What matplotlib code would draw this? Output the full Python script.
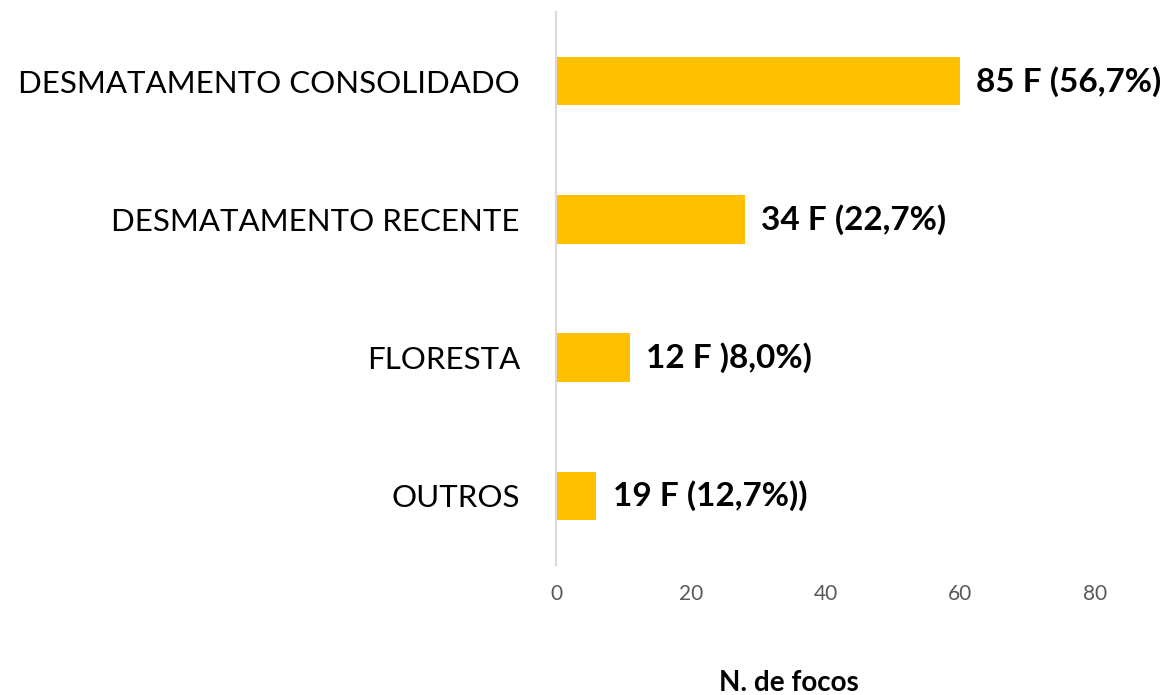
import numpy as np
import matplotlib.pyplot as plt

categories = ["DESMATAMENTO CONSOLIDADO", "DESMATAMENTO RECENTE", "FLORESTA", "OUTROS"]
values = [60, 28, 11, 6]
labels = ["85 F (56,7%)", "34 F (22,7%)", "12 F )8,0%)", "19 F (12,7%))"]
xticks = [0, 20, 40, 60, 80]

plt.rcParams['font.family'] = ['Lato', 'DejaVu Sans']

fig = plt.figure(figsize=(11.68, 6.95), dpi=100)
ax = fig.add_axes([556 / 1168, 1 - 565 / 695, (1095 - 556) / 1168, 553 / 695])

y = np.arange(len(categories))
ax.barh(y, values, height=0.35, color='#FFC000')
for yi, v, lab in zip(y, values, labels):
    ax.text(v + 2.4, yi, lab, va='center', ha='left', fontsize=24, fontweight='bold', color='black')

ax.set_xlim(0, 80)
ax.set_ylim(3.5, -0.5)
ax.set_yticks(y, labels=categories, fontsize=22.5)
ax.set_xticks(xticks, labels=[str(t) for t in xticks], fontsize=15, color='#595959')
ax.tick_params(axis='y', length=0, pad=26)
ax.tick_params(axis='x', length=0, pad=14)

for s in ['top', 'right', 'bottom']:
    ax.spines[s].set_visible(False)
ax.spines['left'].set_color('#D9D9D9')
ax.spines['left'].set_linewidth(1.5)

fig.text(789 / 1168, 1 - 683 / 695, "N. de focos", ha='center', va='center', fontsize=20, fontweight='bold')

fig.savefig("out.png", dpi=100)
